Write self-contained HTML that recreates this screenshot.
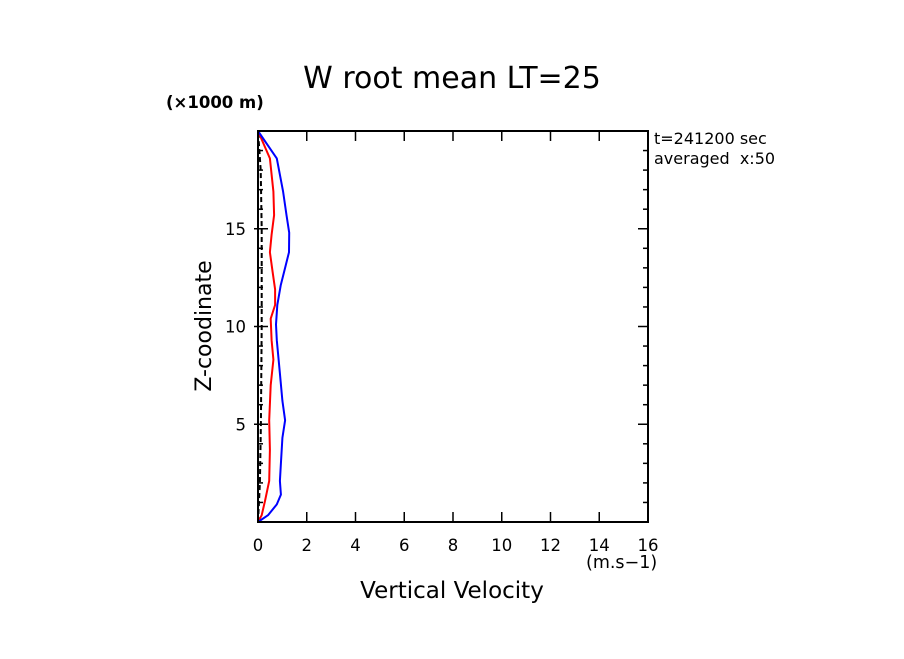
<!DOCTYPE html>
<html><head><meta charset="utf-8"><style>
body{margin:0;background:#fff;}
svg text{font-family:"DejaVu Sans","Liberation Sans",sans-serif;fill:#000;}
</style></head><body>
<svg width="904" height="654" viewBox="0 0 904 654">
<defs><clipPath id="rc"><rect x="0" y="0" width="775" height="654"/></clipPath></defs>
<text x="452" y="88" font-size="30" text-anchor="middle">W root mean LT=25</text>
<text x="166" y="108" font-size="16.5" font-weight="bold">(×1000 m)</text>
<g clip-path="url(#rc)">
<text x="654" y="144" font-size="16">t=241200 sec</text>
<text x="654" y="164" font-size="16" xml:space="preserve">averaged  x:50</text>
</g>
<text x="211" y="326" font-size="22" text-anchor="middle" transform="rotate(-90 211 326)">Z-coodinate</text>
<text x="452" y="598" font-size="23" text-anchor="middle">Vertical Velocity</text>
<text x="586" y="568" font-size="17.5">(m.s−1)</text>
<g id="axes"></g>
<g id="series"></g>
<rect x="258" y="131" width="390" height="391" fill="none" stroke="#000" stroke-width="2"/>
</svg>
<script>
const xTicks=[0,2,4,6,8,10,12,14,16];
const yTicks=[5,10,15];
const blueZ=[0,0.35,0.9,1.4,2.1,3.0,4.3,5.2,6.2,7.6,9.3,10.1,11.1,12.1,13.0,13.8,14.8,15.7,16.9,18.6,20];
const blueV=[0,0.41,0.77,0.94,0.9,0.94,1.0,1.11,1.0,0.9,0.77,0.74,0.79,0.93,1.11,1.27,1.28,1.17,1.03,0.77,0];
const redZ=[0,0.35,1.1,2.1,3.7,5.2,7.0,8.3,9.3,10.4,11.1,11.9,12.8,13.8,14.7,15.7,16.9,18.6,20];
const redV=[0,0.15,0.29,0.46,0.49,0.46,0.52,0.63,0.56,0.52,0.7,0.7,0.6,0.49,0.56,0.66,0.63,0.49,0];
const meanZ=[0,2,5,10,15,18,20];
const meanV=[0,0.08,0.12,0.15,0.15,0.11,0];
const X0=258,X1=648,Y0=522,Y1=131;
const sx=v=>X0+(v-0)/16*(X1-X0);
const sy=z=>Y0-(z-0)/20*(Y0-Y1);
const NS="http://www.w3.org/2000/svg";
const ax=document.getElementById('axes'),se=document.getElementById('series');
function mk(tag,at,par){const e=document.createElementNS(NS,tag);for(const k in at)e.setAttribute(k,at[k]);par.appendChild(e);return e;}
xTicks.forEach(v=>{
 const x=sx(v);
 const t1=mk('line',{x1:x,x2:x,y1:Y0,y2:Y0-10,stroke:'#000','stroke-width':1.5},ax);
 
 
 const t2=mk('line',{x1:x,x2:x,y1:Y1,y2:Y1+10,stroke:'#000','stroke-width':1.5},ax);
 
 
 const l=mk('text',{x:x,y:551,'font-size':16.5,'text-anchor':'middle'},ax);l.textContent=v;
 
 
});
for(let z=1;z<20;z++){
 const y=sy(z);const major=z%5===0;
 const m=mk('line',{x1:X0-(major?4:0),x2:X0+(major?10:5),y1:y,y2:y,stroke:'#000','stroke-width':1.5},ax);
 
 
 const r=mk('line',{x1:X1-(major?10:5),x2:X1,y1:y,y2:y,stroke:'#000','stroke-width':1.5},ax);
 
 
}
yTicks.forEach(z=>{
 const l=mk('text',{x:X0-12,y:sy(z)+6,'font-size':16.5,'text-anchor':'end'},ax);l.textContent=z;
 
 
});
function path(V,Z,col,dash,name){
 const d=V.map((v,i)=>(i?'L':'M')+sx(v).toFixed(1)+','+sy(Z[i]).toFixed(1)).join('');
 const p=mk('path',{d:d,fill:'none',stroke:col,'stroke-width':2,'stroke-linejoin':'round'},se);
 if(dash)p.setAttribute('stroke-dasharray',dash);
 
 
}
path(meanV,meanZ,'#000','5,3','mean-line');
path(redV,redZ,'#f00',null,'red-series-line');
path(blueV,blueZ,'#00f',null,'blue-series-line');
</script>
</body></html>
